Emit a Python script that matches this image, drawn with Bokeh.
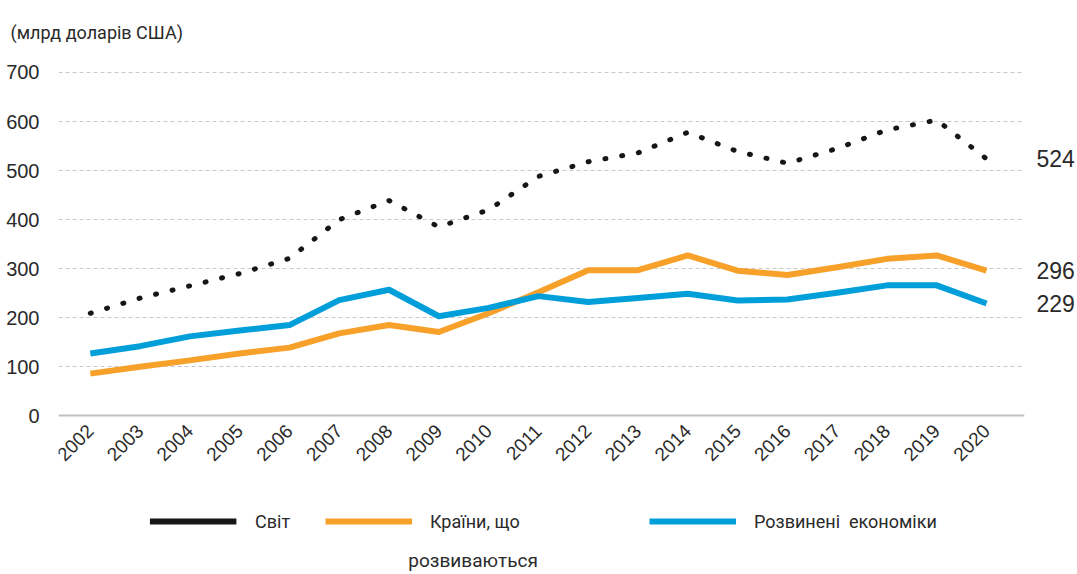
import math
from bokeh.plotting import figure
from bokeh.models import FixedTicker, Label, Legend, LegendItem, Range1d, LinearAxis, BoxAnnotation
from bokeh.embed import file_html
from bokeh.resources import INLINE

# ---- data ----
years = list(range(2002, 2021))
world = [209, 240, 265, 290, 321, 400, 439, 385, 420, 488, 518, 536, 578, 539, 515, 545, 583, 603, 524]
developing = [86, 100, 113, 127, 139, 168, 185, 171, 209, 252, 297, 297, 327, 296, 287, 303, 320, 327, 296]
developed = [127, 142, 162, 174, 185, 236, 257, 203, 220, 244, 232, 240, 249, 235, 237, 251, 266, 266, 229]
y_ticks = [0, 100, 200, 300, 400, 500, 600, 700]
unit_label = "(млрд доларів США)"
names = ["Світ", "Країни, що", "Розвинені  економіки"]
name_wrap = "розвиваються"

# ---- style / layout ----
BLACK = "#161616"
ORANGE = "#F7A12B"
BLUE = "#009FDA"
TEXT = "#2a2a2a"
NUM_FONT = "Liberation Sans"
TXT_FONT = "Roboto"

W, H = 1077, 574
F_LEFT, F_RIGHT, F_TOP, F_BOTTOM = 58, 1030, 60, 574
PX_PER_UNIT = 0.4914          # vertical pixels per data unit
ZERO_PX = 415                 # pixel row of y = 0
PX_PER_YEAR = 50.1
FIRST_PX = 90                 # pixel column of the first year
LEG_Y = 521                   # pixel row of the legend keys
KEY_W = 87

y_start = -(F_BOTTOM - ZERO_PX) / PX_PER_UNIT
y_end = (ZERO_PX - F_TOP) / PX_PER_UNIT
x_start = years[0] - (FIRST_PX - F_LEFT) / PX_PER_YEAR
x_end = years[0] + (F_RIGHT - FIRST_PX) / PX_PER_YEAR


def px_x(px):
    return years[0] + (px - FIRST_PX) / PX_PER_YEAR


def px_y(py):
    return (ZERO_PX - py) / PX_PER_UNIT


p = figure(width=W, height=H, output_backend="svg", toolbar_location=None,
           x_range=Range1d(x_start, x_end), y_range=Range1d(y_start, y_end),
           min_border_left=F_LEFT, min_border_right=W - F_RIGHT,
           min_border_top=F_TOP, min_border_bottom=H - F_BOTTOM)
p.outline_line_color = None
p.background_fill_color = "white"
p.border_fill_color = "white"

# title (unit)
p.title.text = unit_label
p.title.align = "left"
p.title.offset = -48
p.title.standoff = 38
p.title.text_font = TXT_FONT
p.title.text_font_size = "18px"
p.title.text_font_style = "normal"
p.title.text_color = TEXT

# x axis at y = 0
p.xaxis.fixed_location = 0
p.xaxis.ticker = FixedTicker(ticks=years)
p.xaxis.major_label_orientation = math.pi / 4
p.xaxis.major_label_text_font = NUM_FONT
p.xaxis.major_label_text_font_size = "19px"
p.xaxis.major_label_text_color = TEXT
p.xaxis.major_label_text_baseline = "top"
p.xaxis.major_tick_line_color = None
p.xaxis.minor_tick_line_color = None
p.xaxis.axis_line_color = "#c0c0c0"
p.xaxis.axis_line_width = 2
p.xaxis.major_label_standoff = 6

p.yaxis.ticker = FixedTicker(ticks=y_ticks)
p.yaxis.major_label_text_font = NUM_FONT
p.yaxis.major_label_text_font_size = "20px"
p.yaxis.major_label_text_color = TEXT
p.yaxis.axis_line_color = None
p.yaxis.major_tick_line_color = None
p.yaxis.minor_tick_line_color = None
p.yaxis.major_label_standoff = 13

p.xgrid.grid_line_color = None
p.ygrid.grid_line_color = "#c8c8c8"
p.ygrid.grid_line_dash = "4 3"
p.ygrid.grid_line_width = 1
p.ygrid.ticker = FixedTicker(ticks=y_ticks[1:])

# end-value labels as a right axis
end_vals = [world[-1], developing[-1], developed[-1]]
raxis = LinearAxis(ticker=FixedTicker(ticks=end_vals), axis_line_color=None,
                   major_tick_line_color=None, minor_tick_line_color=None,
                   major_label_text_font=NUM_FONT, major_label_text_font_size="23px",
                   major_label_text_color=TEXT, major_label_standoff=6)
p.add_layout(raxis, "right")

# series
p.line(years, world, line_color=BLACK, line_width=5, line_dash="1 16", line_cap="round")
r_dev = p.line(years, developing, line_color=ORANGE, line_width=6, line_join="round")
r_adv = p.line(years, developed, line_color=BLUE, line_width=6, line_join="round")
# transparent stand-in for the world series' legend entry (its solid key is a box below)
r_key = p.line(years, world, line_color=BLACK, line_alpha=0, line_width=6, visible=False)

legend_common = dict(orientation="horizontal", glyph_width=KEY_W, glyph_height=24, label_height=24,
                     label_standoff=18, label_text_font=TXT_FONT, label_text_font_size="18px",
                     label_text_color=TEXT, label_text_baseline="middle", click_policy="none",
                     inactive_fill_alpha=0, padding=0, margin=0, border_line_alpha=0,
                     background_fill_alpha=0, spacing=0)

# legend
leg_px = [150, 325, 649]
for r, nm, lx in zip([r_key, r_dev, r_adv], names, leg_px):
    lg = Legend(items=[LegendItem(label=nm, renderers=[r])],
                location=(lx - F_LEFT, F_BOTTOM - LEG_Y - 12), **legend_common)
    p.add_layout(lg, "center")

# solid black key for "Світ"
p.add_layout(BoxAnnotation(left=px_x(leg_px[0]), right=px_x(leg_px[0] + KEY_W),
                           bottom=px_y(LEG_Y + 3), top=px_y(LEG_Y - 3),
                           fill_color=BLACK, fill_alpha=1, line_alpha=0))

p.add_layout(Label(x=px_x(410), y=px_y(560), text=name_wrap,
                   text_font=TXT_FONT, text_font_size="19px", text_color=TEXT,
                   text_baseline="middle"))

open("out.html", "w").write(file_html(p, INLINE))
